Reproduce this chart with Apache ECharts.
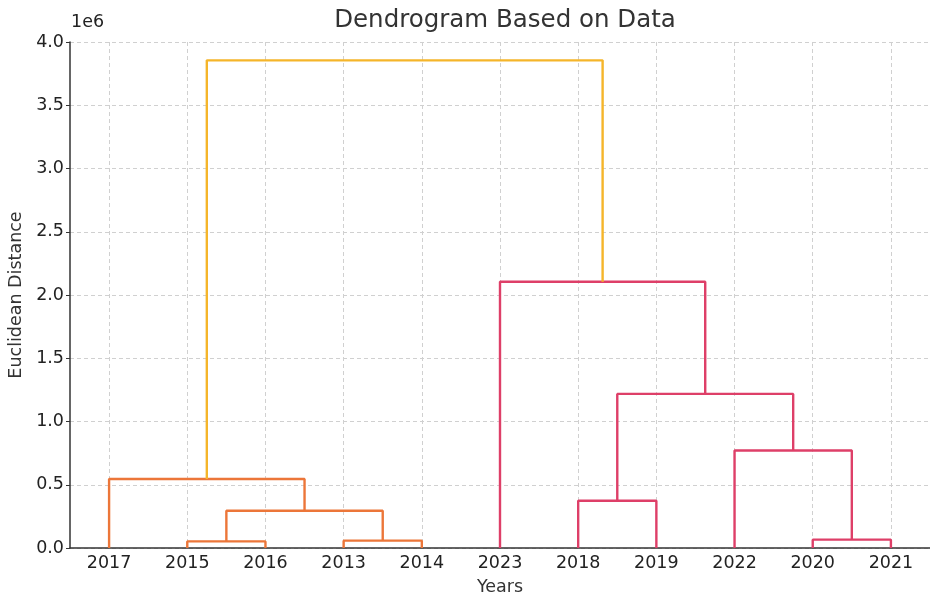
<!DOCTYPE html>
<html>
<head>
<meta charset="utf-8">
<script src="https://cdn.jsdelivr.net/npm/echarts@6/dist/echarts.min.js"></script>
<style>
  html, body { margin: 0; padding: 0; background: #fff; }
  #chart { width: 930px; height: 597px; }
</style>
</head>
<body>
<div id="chart"></div>
<script>
// Leaf order along the x axis
const leaves = ['2017', '2015', '2016', '2013', '2014', '2023', '2018', '2019', '2022', '2020', '2021'];

// Merge steps: children are leaf names or earlier merge ids ("m0", "m1", ...)
const mergeLeft   = ['2015', '2013', 'm0', '2017', '2020', '2018', '2022', 'm5', '2023', 'm3'];
const mergeRight  = ['2016', '2014', 'm1', 'm2', '2021', '2019', 'm4', 'm6', 'm7', 'm8'];
const mergeHeight = [52000, 58000, 295000, 545000, 66000, 373000, 771000, 1218000, 2105000, 3855000];
const mergeGroup  = ['a', 'a', 'a', 'a', 'b', 'b', 'b', 'b', 'b', 'top'];

// Y tick values
const yTicks = [0, 500000, 1000000, 1500000, 2000000, 2500000, 3000000, 3500000, 4000000];

const groupColors = { a: '#ec7639', b: '#de3f68', top: '#f5b52a' };

// Leaf i sits at 10*i + 5 (unit spacing of 10)
const leafX = leaves.map((_, i) => 10 * i + 5);
const nodeX = {}, nodeY = {};
leaves.forEach((name, i) => { nodeX[name] = leafX[i]; nodeY[name] = 0; });

const series = [];
mergeHeight.forEach((h, k) => {
  const l = mergeLeft[k], r = mergeRight[k];
  const xl = nodeX[l], xr = nodeX[r];
  series.push({
    type: 'line',
    data: [[xl, nodeY[l]], [xl, h], [xr, h], [xr, nodeY[r]]],
    symbol: 'none',
    lineStyle: { color: groupColors[mergeGroup[k]], width: 2.4 },
    silent: true,
    animation: false
  });
  nodeX['m' + k] = (xl + xr) / 2;
  nodeY['m' + k] = h;
});

const chart = echarts.init(document.getElementById('chart'));
const font = 'DejaVu Sans';
chart.setOption({
  animation: false,
  title: {
    text: 'Dendrogram Based on Data',
    left: 500, top: 3, textAlign: 'center',
    textStyle: { fontFamily: font, fontSize: 24.5, fontWeight: 'normal', color: '#333' }
  },
  grid: { left: 70, right: 0, top: 42, bottom: 49, outerBoundsMode: 'none' },
  graphic: [{
    type: 'text', left: 71, top: 13,
    style: { text: '1e6', font: '17.5px "DejaVu Sans"', fill: '#222' }
  }],
  xAxis: {
    type: 'value', min: 0, max: 110,
    name: 'Years', nameLocation: 'middle', nameGap: 30,
    nameTextStyle: { fontFamily: font, fontSize: 17.5, color: '#333' },
    axisLine: { show: true, lineStyle: { color: '#333', width: 1.5 } },
    axisTick: { show: false, customValues: leafX },
    axisLabel: {
      customValues: leafX,
      formatter: v => leaves[Math.round((v - 5) / 10)] || '',
      fontFamily: font, fontSize: 17.5, color: '#222', margin: 6
    },
    splitLine: { show: true, lineStyle: { color: '#d0d0d0', type: [4, 3], width: 1 } }
  },
  yAxis: {
    type: 'value', min: 0, max: 4000000, interval: 500000,
    name: 'Euclidean Distance', nameLocation: 'middle', nameGap: 43, nameRotate: 90,
    nameTextStyle: { fontFamily: font, fontSize: 17.5, color: '#333' },
    axisLine: { show: true, lineStyle: { color: '#333', width: 1.5 } },
    axisTick: { show: true, length: 4, lineStyle: { color: '#333' } },
    axisLabel: {
      customValues: yTicks,
      formatter: v => (v / 1e6).toFixed(1),
      fontFamily: font, fontSize: 17.5, color: '#222', margin: 6
    },
    splitLine: { show: true, lineStyle: { color: '#d0d0d0', type: [4, 3], width: 1 } }
  },
  series: series
});
</script>
</body>
</html>
